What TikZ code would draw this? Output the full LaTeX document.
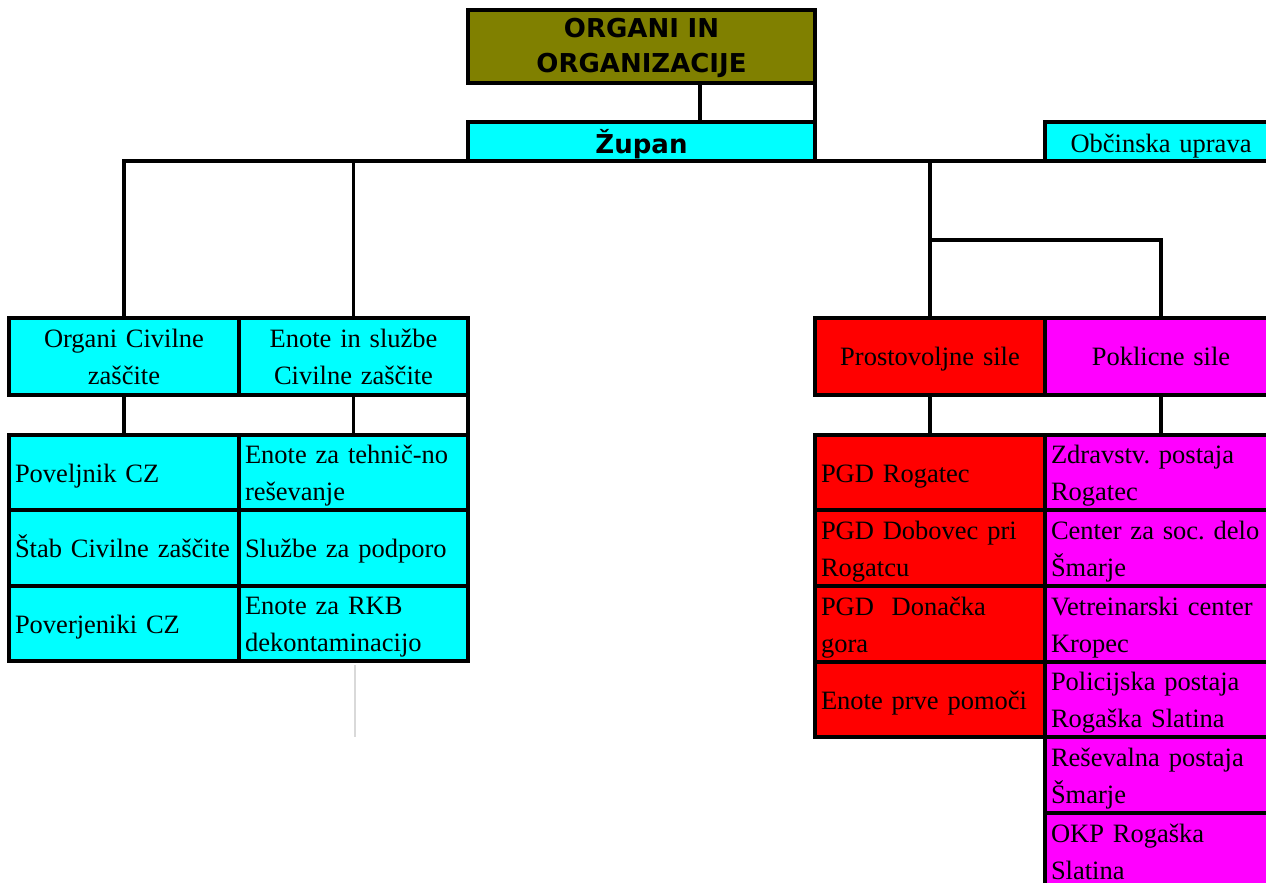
\documentclass[tikz,border=0pt]{standalone}
\usepackage{fontspec}
\setmainfont{Liberation Serif}
\newfontfamily\titlefont{DejaVu Sans}
\definecolor{olv}{HTML}{808000}
\definecolor{cy}{HTML}{00FFFF}
\definecolor{rd}{HTML}{FF0000}
\definecolor{mg}{HTML}{FF00FF}
\newcommand\lnstrut[2]{\rule[-#2pt]{0pt}{\dimexpr#1pt+#2pt\relax}}
\newcommand\cs{\lnstrut{28}{9}}
\frenchspacing
\begin{document}
\begin{tikzpicture}[x=1pt,y=-1pt,
  box/.style={draw=black, line width=3.5pt, anchor=north west, inner sep=0pt, outer sep=0pt,
              font=\fontsize{26.5}{37}\selectfont},
  cellL/.style={box, align=left},
  cellC/.style={box, align=center},
  wire/.style={draw=black, line width=3.5pt},
  ttl/.style={font=\titlefont\bfseries\fontsize{26}{35}\selectfont},
]
\useasboundingbox (0,0) rectangle (1266,883);
\coordinate (tj) at (700,0);
\coordinate (split) at (930,240);
\coordinate (g1) at (355,665);
\coordinate (g2) at (355,737);

% boxes
\node[cellC, ttl, fill=olv, minimum width=347, minimum height=73, text width=335] (top) at (468,10) {\lnstrut{26.5}{8.5}ORGANI IN\\\lnstrut{26.5}{8.5}ORGANIZACIJE};
\node[cellC, ttl, fill=cy, minimum width=347, minimum height=39, text width=335] (zupan) at (468,122) {\lnstrut{29}{6}Župan};
\node[cellC, fill=cy, minimum width=232, minimum height=39, text width=220] (obc) at (1045,122) {\lnstrut{28.5}{7.5}Občinska uprava};

\node[cellC, fill=cy, minimum width=230, minimum height=77, text width=218] (ocz) at (9,318) {\cs Organi Civilne\\\cs zaščite};
\node[cellC, fill=cy, minimum width=229, minimum height=77, text width=217] (enote) at (239,318) {\cs Enote in službe\\\cs Civilne zaščite};

\node[cellL, fill=cy, minimum width=230, minimum height=75, text width=218] (l1) at (9,435) {\cs Poveljnik CZ};
\node[cellL, fill=cy, minimum width=230, minimum height=76, text width=218] (l2) at (9,510) {\cs Štab Civilne zaščite};
\node[cellL, fill=cy, minimum width=230, minimum height=75, text width=218] (l3) at (9,586) {\cs Poverjeniki CZ};
\node[cellL, fill=cy, minimum width=229, minimum height=75, text width=217] (r1) at (239,435) {\cs Enote za tehnič-no\\\cs reševanje};
\node[cellL, fill=cy, minimum width=229, minimum height=76, text width=217] (r2) at (239,510) {\cs Službe za podporo};
\node[cellL, fill=cy, minimum width=229, minimum height=75, text width=217] (r3) at (239,586) {\cs Enote za RKB\\\cs dekontaminacijo};

\node[cellC, fill=rd, minimum width=230, minimum height=77, text width=218] (pros) at (815,318) {\lnstrut{27}{10}Prostovoljne sile};
\node[cellC, fill=mg, minimum width=232, minimum height=77, text width=220] (pokl) at (1045,318) {\lnstrut{27}{10}Poklicne sile};

\node[cellL, fill=rd, minimum width=230, minimum height=75, text width=218] (red1) at (815,435) {\cs PGD Rogatec};
\node[cellL, fill=rd, minimum width=230, minimum height=76, text width=218] (red2) at (815,510) {\cs PGD Dobovec pri\\\cs Rogatcu};
\node[cellL, fill=rd, minimum width=230, minimum height=76, text width=218] (red3) at (815,586) {\cs PGD~ Donačka\\\cs gora};
\node[cellL, fill=rd, minimum width=230, minimum height=75, text width=218] (red4) at (815,662) {\cs Enote prve pomoči};

\node[cellL, fill=mg, minimum width=232, minimum height=75, text width=220] (mag1) at (1045,435) {\cs Zdravstv. postaja\\\cs Rogatec};
\node[cellL, fill=mg, minimum width=232, minimum height=76, text width=220] (mag2) at (1045,510) {\cs Center za soc. delo\\\cs Šmarje};
\node[cellL, fill=mg, minimum width=232, minimum height=76, text width=220] (mag3) at (1045,586) {\cs Vetreinarski center\\\cs Kropec};
\node[cellL, fill=mg, minimum width=232, minimum height=75, text width=220] (mag4) at (1045,662) {\cs Policijska postaja\\\cs Rogaška Slatina};
\node[cellL, fill=mg, minimum width=232, minimum height=76, text width=220] (mag5) at (1045,737) {\cs Reševalna postaja\\\cs Šmarje};
\node[cellL, fill=mg, minimum width=232, minimum height=76, text width=220] (mag6) at (1045,813) {\cs OKP Rogaška\\\cs Slatina};

% connectors
\draw[wire] (top.south -| tj) -- (zupan.north -| tj);
\draw[wire] (top.south east) -- (zupan.north east);
\draw[wire] (ocz.north) -- (ocz.north |- zupan.south) -- (zupan.south west);
\draw[wire] (zupan.south east) -- (obc.south west);
\draw[wire] (enote.north) -- (enote.north |- zupan.south);
\draw[wire] (pros.north) -- (pros.north |- zupan.south);
\draw[wire] (pros.north |- split) -- (pokl.north |- split) -- (pokl.north);
\draw[wire] (ocz.south) -- (l1.north);
\draw[wire] (enote.south) -- (r1.north);
\draw[wire] (enote.south east) -- (r1.north east);
\draw[wire] (pros.south) -- (red1.north);
\draw[wire] (pokl.south) -- (mag1.north);
\draw[gray!30, line width=2pt] (g1) -- (g2);
\end{tikzpicture}
\end{document}
